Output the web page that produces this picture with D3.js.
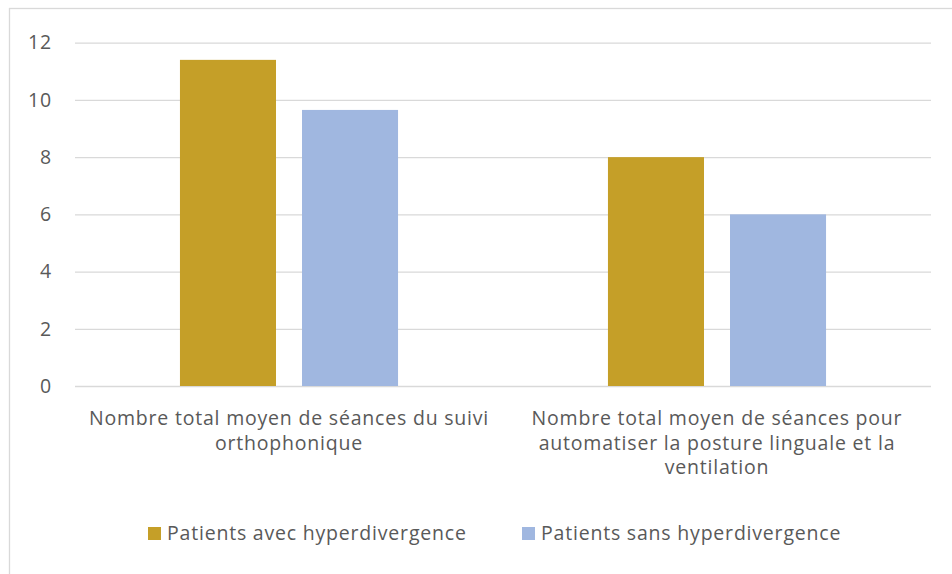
<!DOCTYPE html>
<html>
<head>
<meta charset="utf-8">
<script src="https://cdn.jsdelivr.net/npm/d3@7"></script>
<style>
  body { margin: 0; background: #fff; }
  svg { display: block; font-family: "Open Sans", "Noto Sans", sans-serif; }
</style>
</head>
<body>
<div id="chart"></div>
<script>
// data
const categories = [
  ["Nombre total moyen de séances du suivi", "orthophonique"],
  ["Nombre total moyen de séances pour", "automatiser la posture linguale et la", "ventilation"]
];
const seriesNames = ["Patients avec hyperdivergence", "Patients sans hyperdivergence"];
const avecValues = [11.4, 8.0];
const sansValues = [9.65, 6.0];
const yTicks = [0, 2, 4, 6, 8, 10, 12];
const colors = ["#c59f28", "#a0b7e0"];

const width = 952;
const height = 574;
const plot = { left: 75, right: 931, top: 42.7, bottom: 386 };
const textColor = "#595959";
const fontSize = 19.5;
const spacing = 0.8; // calibri-ish width

const svg = d3.select("#chart")
  .append("svg")
  .attr("width", width)
  .attr("height", height);

// outer chart border
svg.append("rect")
  .attr("x", 9.5).attr("y", 8.5)
  .attr("width", 960).attr("height", 600)
  .attr("fill", "none")
  .attr("stroke", "#d9d9d9")
  .attr("stroke-width", 1.3);

const catKeys = categories.map((c, i) => i);

const x0 = d3.scaleBand()
  .domain(catKeys)
  .range([plot.left, plot.right])
  .padding(0);

const x1 = d3.scaleBand()
  .domain(seriesNames)
  .range([0, x0.bandwidth()])
  .paddingInner(0.213)
  .paddingOuter(0.86);

const y = d3.scaleLinear()
  .domain([0, 12])
  .range([plot.bottom, plot.top]);

// gridlines + y labels
const yAxis = d3.axisLeft(y)
  .tickValues(yTicks)
  .tickSize(-(plot.right - plot.left))
  .tickPadding(23);

svg.append("g")
  .attr("transform", `translate(${plot.left},0)`)
  .call(yAxis)
  .attr("font-family", null)
  .attr("font-size", null)
  .call(g => g.select(".domain").remove())
  .call(g => g.selectAll(".tick line").attr("stroke", "#d9d9d9").attr("stroke-width", 1.3))
  .call(g => g.selectAll(".tick text")
    .attr("fill", textColor)
    .attr("font-size", fontSize)
    .attr("letter-spacing", spacing));

// bars
const rows = catKeys.map(i => ({ cat: i, values: [avecValues[i], sansValues[i]] }));

svg.append("g")
  .selectAll("g")
  .data(rows)
  .join("g")
  .attr("transform", d => `translate(${x0(d.cat)},0)`)
  .selectAll("rect")
  .data(d => d.values.map((v, j) => ({ name: seriesNames[j], value: v, j })))
  .join("rect")
  .attr("x", d => x1(d.name))
  .attr("y", d => y(d.value))
  .attr("width", x1.bandwidth())
  .attr("height", d => y(0) - y(d.value))
  .attr("fill", d => colors[d.j]);

// category labels
const catLabels = svg.append("g")
  .selectAll("text")
  .data(catKeys)
  .join("text")
  .attr("x", d => x0(d) + x0.bandwidth() / 2)
  .attr("y", 425)
  .attr("text-anchor", "middle")
  .attr("fill", textColor)
  .attr("font-size", fontSize)
  .attr("letter-spacing", spacing);

catLabels.selectAll("tspan")
  .data(d => categories[d])
  .join("tspan")
  .attr("x", function() { return d3.select(this.parentNode).attr("x"); })
  .attr("dy", (d, i) => i === 0 ? 0 : 24.7)
  .text(d => d);

// legend
const legendX = [148, 522];
const legend = svg.append("g")
  .selectAll("g")
  .data(seriesNames)
  .join("g")
  .attr("transform", (d, i) => `translate(${legendX[i]},527)`);

legend.append("rect")
  .attr("width", 13)
  .attr("height", 13)
  .attr("fill", (d, i) => colors[i]);

legend.append("text")
  .attr("x", 19)
  .attr("y", 13)
  .attr("fill", textColor)
  .attr("font-size", fontSize)
  .attr("letter-spacing", spacing)
  .text(d => d);
</script>
</body>
</html>
